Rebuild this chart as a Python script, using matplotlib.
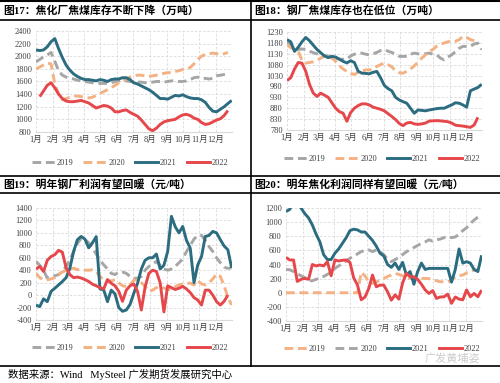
import numpy as np
import matplotlib
matplotlib.use('Agg')
import matplotlib.pyplot as plt
from matplotlib.lines import Line2D

nan = np.nan

# ---- data (weekly, week 0 = 1 Jan) ----
months = ['1月', '2月', '3月', '4月', '5月', '6月', '7月', '8月', '9月', '10月', '11月', '12月']
month_start_days = [0, 31, 59, 90, 120, 151, 181, 212, 243, 273, 304, 334]
weeks = np.arange(53)

# 图17 焦化厂焦煤库存 (万吨)
coke_2019 = [1910, 1950, 1990, 2020, 2060, 1920, 1770, 1700, 1670, 1650, 1640, 1620, 1610, 1600,
             1590, 1580, 1570, 1570, 1570, 1570, 1580, 1600, 1610, 1620, 1610, 1600, 1590, 1590,
             1590, 1580, 1590, 1590, 1600, 1600, 1590, 1600, 1610, 1610, 1600, 1600, 1610, 1630,
             1660, 1670, 1650, 1650, 1640, 1650, 1690, 1700, 1710, 1720, nan]
coke_2020 = [1800, 1830, 1860, 1890, 1880, 1560, 1400, 1310, 1330, 1350, 1370, 1370, 1360, 1350,
             1340, 1350, 1380, 1410, 1440, 1470, 1500, 1540, 1580, 1610, 1640, 1670, 1690, 1700,
             1700, 1690, 1680, 1690, 1700, 1710, 1730, 1740, 1740, 1760, 1770, 1790, 1800, 1820,
             1880, 1950, 2000, 2030, 2040, 2050, 2040, 2030, 2040, 2060, nan]
coke_2021 = [2100, 2090, 2100, 2150, 2230, 2280, 2120, 1980, 1860, 1780, 1720, 1680, 1650, 1630,
             1630, 1620, 1610, 1630, 1620, 1600, 1630, 1640, 1640, 1660, 1660, 1630, 1580, 1560,
             1530, 1500, 1470, 1430, 1380, 1330, 1330, 1320, 1350, 1380, 1370, 1390, 1360, 1340,
             1330, 1330, 1310, 1270, 1190, 1130, 1120, 1160, 1200, 1250, 1300]
coke_2022 = [nan, 1360, 1450, 1540, 1580, 1500, 1400, 1330, 1290, 1280, 1280, 1290, 1300, 1280,
             1260, 1220, 1180, 1200, 1220, 1210, 1180, 1120, 1120, 1140, 1150, 1110, 1080, 1050,
             990, 920, 850, 820, 860, 920, 960, 980, 990, 1000, 1040, 1070, 1080, 1060,
             1020, 1000, 950, 920, 930, 960, 990, 1010, 1060, 1140, nan]

# 图18 钢厂焦煤库存 (万吨)
steel_2019 = [1187, 1165, 1149, 1150, 1152, 1150, 1142, 1135, 1130, 1125, 1122, 1120, 1115, 1110,
              1105, 1105, 1105, 1120, 1128, 1133, 1133, 1128, 1125, 1130, 1136, 1145, 1149, 1142,
              1136, 1128, 1118, 1118, 1118, 1128, 1133, 1130, 1128, 1130, 1133, 1128, 1125, 1110,
              1102, 1115, 1125, 1140, 1155, 1164, 1164, 1164, 1175, 1179, 1149]
steel_2020 = [1172, 1158, 1150, 1141, 1100, 1087, 1090, 1093, 1100, 1110, 1120, 1122, 1110, 1095,
              1075, 1060, 1049, 1040, 1035, 1045, 1050, 1056, 1056, 1058, 1072, 1080, 1087, 1080,
              1070, 1052, 1043, 1041, 1050, 1060, 1075, 1090, 1110, 1125, 1141, 1150, 1165, 1172,
              1180, 1185, 1187, 1187, 1195, 1210, 1205, 1195, 1190, 1187, nan]
steel_2021 = [1195, 1185, 1141, 1160, 1185, 1205, 1190, 1170, 1150, 1135, 1120, 1112, 1118, 1115,
              1105, 1095, 1088, 1098, 1090, 1050, 1041, 1040, 1038, 1045, 1049, 1020, 985, 970,
              960, 930, 918, 910, 903, 880, 857, 872, 870, 868, 872, 875, 878, 880,
              880, 888, 895, 905, 903, 895, 885, 960, 968, 975, 990]
steel_2022 = [1007, 1020, 1060, 1090, 1087, 1050, 990, 950, 934, 949, 940, 930, 905, 880,
              864, 857, 820, 860, 880, 892, 900, 900, 895, 885, 880, 875, 868, 855,
              842, 828, 810, 800, 812, 815, 808, 806, 808, 812, 821, 822, 823, 822,
              820, 818, 812, 802, 800, 798, 795, 792, 803, 838, nan]

# 图19 钢厂利润 (元/吨)
mill_2019 = [540, 480, 400, 272, 290, 310, 330, 379, 460, 560, 700, 830, 910, 900,
             840, 760, 660, 560, 487, 420, 350, 330, 370, 370, 350, 300, 270, 272,
             300, 400, 460, 500, 540, 480, 420, 400, 420, 460, 520, 580, 700, 800,
             900, 960, 960, 880, 780, 700, 600, 520, 450, 430, 440]
mill_2020 = [352, 280, 250, 245, 260, 280, 330, 370, 400, 420, 433, 410, 406, 400,
             400, 406, 380, 300, 245, 220, 230, 245, 200, 150, 137, 164, 240, 245,
             200, 140, 60, 80, 120, 137, 115, 84, 110, 137, 164, 180, 191, 191,
             164, 230, 180, 164, 200, 260, 340, 300, 150, -30, -160]
mill_2021 = [-160, -185, -60, -105, 60, 110, 164, 218, 280, 433, 700, 890, 943, 900,
             760, 840, 940, 100, 84, -105, 80, 20, -200, -260, -240, -150, 30, 190,
             420, 560, 600, 600, 660, 420, 480, 700, 1266, 1100, 1000, 1104, 880, 755,
             200, 487, 620, 943, 960, 1024, 1000, 890, 790, 728, 440]
mill_2022 = [420, 460, 380, 560, 620, 650, 720, 690, 440, 330, 280, 290, 275, 250,
             220, 175, 150, 120, 100, 250, 190, 150, 60, -100, 80, 150, 180, 60,
             -240, 130, 350, 400, 380, 200, -270, 150, 120, 90, 110, 140, 100, 40,
             -40, -80, -160, 80, 80, 0, -105, -160, -100, 0, nan]

# 图20 焦化利润 (元/吨)
cokery_2019 = [0, 0, 0, 0, 0, 0, 0, 0, 0, 0, 0, 0, 0, 0,
               0, 0, 0, 0, 0, 0, 290, 240, 150, 132, 150, 180, 203, 230,
               251, 274, 260, 240, 210, 203, 203, 203, 203, 203, 200, 180, 170, 156,
               156, 156, 180, 227, 240, 251, 280, 298, 320, 322, nan]
cokery_2020 = [330, 325, 300, 270, 240, 215, 170, 170, 190, 210, 230, 260, 290, 345,
               380, 420, 450, 488, 520, 550, 583, 600, 606, 583, 606, 580, 540, 470,
               440, 470, 500, 540, 580, 610, 640, 670, 700, 720, 749, 730, 750, 760,
               780, 796, 780, 790, 830, 880, 920, 980, 1030, 1070, 1105]
cokery_2021 = [1150, 1180, 1300, 1280, 1200, 1120, 1060, 960, 830, 720, 540, 470, 470, 560,
               620, 700, 780, 880, 900, 890, 860, 860, 800, 740, 660, 560, 520, 400,
               360, 420, 330, 430, 250, 300, 120, 300, 420, 330, 345, 345, 345, 345,
               345, 345, 150, 330, 620, 420, 440, 420, 330, 300, 530]
cokery_2022 = [500, 464, 464, 160, 190, 203, 190, 400, 380, 393, 380, 440, 240, 464,
               450, 460, 464, 430, 210, 110, -100, -60, 60, 250, 85, 108, 108, 13,
               -105, -30, -90, 140, 274, 227, 227, 190, 120, 40, -10, 30, -80, -60,
               -57, -20, -150, -60, -90, -100, 40, -57, -10, -57, 37]

# ---- style ----
GRAY = '#A6A6A6'
ORANGE = '#F4B183'
TEAL = '#2B6C80'
RED = '#E5474B'
TXT = '#404040'

plt.rcParams['font.family'] = ['Liberation Serif', 'Noto Sans CJK SC']

W, H = 500, 383
fig = plt.figure(figsize=(W / 100, H / 100), dpi=100)


def px_axes(l, t, r, b):
    return fig.add_axes([l / W, 1 - b / H, (r - l) / W, (b - t) / H])


def fig_line(x0, y0, x1, y1, lw=1.2):
    fig.add_artist(Line2D([x0 / W, x1 / W], [1 - y0 / H, 1 - y1 / H],
                          transform=fig.transFigure, color='black', lw=lw))


def draw(ax, series, yticks):
    for vals, color, dashed in series:
        ls = (0, (3, 1.6)) if dashed else '-'
        ax.plot(weeks, vals, color=color, lw=2.1, ls=ls, solid_capstyle='butt')
    ax.set_xlim(0, 52.1)
    ax.set_ylim(yticks[0], yticks[-1])
    ax.set_yticks(yticks)
    ax.set_yticklabels([str(v) for v in yticks])
    ax.set_xticks(np.array(month_start_days) / 7.0)
    ax.set_xticklabels(months)
    ax.tick_params(length=0, labelsize=6, colors=TXT, pad=3)
    ax.grid(True, color='#D9D9D9', ls=(0, (3, 2)), lw=0.6)
    ax.axvline(52.1, color='#D9D9D9', ls=(0, (3, 2)), lw=0.6)
    for s in ['top', 'right', 'left']:
        ax.spines[s].set_visible(False)
    ax.spines['bottom'].set_color('#D9D9D9')
    ax.set_axisbelow(True)


def legend(cx, cy, labels, colors, dashed):
    handles = [Line2D([], [], color=c, lw=2.1, ls=(0, (3, 1.6)) if d else '-')
               for c, d in zip(colors, dashed)]
    fig.legend(handles, labels, loc='center', bbox_to_anchor=(cx / W, 1 - cy / H),
               ncol=4, frameon=False, fontsize=6, handlelength=2.8, handletextpad=0.2,
               columnspacing=1.2, labelcolor=TXT)


years = ['2019', '2020', '2021', '2022']

ax1 = px_axes(36, 31, 232, 132)
draw(ax1, [(coke_2019, GRAY, True), (coke_2020, ORANGE, True),
           (coke_2021, TEAL, False), (coke_2022, RED, False)],
     list(range(800, 2401, 200)))
legend(130, 163, years, [GRAY, ORANGE, TEAL, RED], [True, True, False, False])

ax2 = px_axes(287, 32, 482, 130)
draw(ax2, [(steel_2019, GRAY, True), (steel_2020, ORANGE, True),
           (steel_2021, TEAL, False), (steel_2022, RED, False)],
     list(range(780, 1231, 50)))
legend(382, 159, years, [GRAY, ORANGE, TEAL, RED], [True, True, False, False])

ax3 = px_axes(36, 208, 232, 320)
draw(ax3, [(mill_2019, GRAY, True), (mill_2020, ORANGE, True),
           (mill_2021, TEAL, False), (mill_2022, RED, False)],
     list(range(-400, 1401, 200)))
legend(130, 348, years, [GRAY, ORANGE, TEAL, RED], [True, True, False, False])

ax4 = px_axes(286, 208, 482, 321)
draw(ax4, [(cokery_2019, ORANGE, True), (cokery_2020, GRAY, True),
           (cokery_2021, TEAL, False), (cokery_2022, RED, False)],
     list(range(-400, 1201, 200)))
legend(382, 349, years, [ORANGE, GRAY, TEAL, RED], [True, True, False, False])

# frame lines
fig_line(0, 0.8, W, 0.8, lw=1.5)
fig_line(0, 19.5, W, 19.5)
fig_line(0, 176, W, 176)
fig_line(0, 193, W, 193)
fig_line(0, 366, W, 366)
fig_line(250.5, 0, 250.5, 366)

title_kw = dict(fontsize=7.8, fontweight='bold', va='center', ha='left', color='black')
fig.text(3 / W, 1 - 10.5 / H, '图17：焦化厂焦煤库存不断下降（万吨）', **title_kw)
fig.text(254 / W, 1 - 10.5 / H, '图18：钢厂焦煤库存也在低位（万吨）', **title_kw)
fig.text(3 / W, 1 - 184.5 / H, '图19：明年钢厂利润有望回暖（元/吨）', **title_kw)
fig.text(254 / W, 1 - 184.5 / H, '图20：明年焦化利润同样有望回暖（元/吨）', **title_kw)

fig.text(8 / W, 1 - 374 / H, '数据来源：Wind   MySteel 广发期货发展研究中心',
         fontsize=7.5, va='center', ha='left', color='black')
fig.text(425 / W, 1 - 358 / H, '广发黄埔姿', fontsize=8, va='center', ha='left',
         color='#BFBFBF', alpha=0.8)

fig.savefig('out.png', dpi=100)
